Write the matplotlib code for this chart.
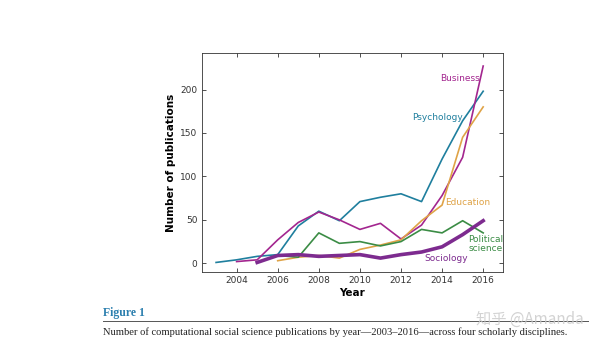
import matplotlib.pyplot as plt
import numpy as np

years_psy = np.arange(2003, 2017)
psychology = [1, 4, 8, 10, 43, 60, 49, 71, 76, 80, 71, 120, 164, 198]

years_bus = np.arange(2004, 2017)
business = [2, 4, 27, 47, 59, 50, 39, 46, 28, 44, 78, 122, 227]

years_edu = np.arange(2006, 2017)
education = [3, 7, 9, 6, 16, 21, 27, 49, 67, 145, 180]

years_pol = np.arange(2006, 2017)
political = [9, 7, 35, 23, 25, 20, 25, 39, 35, 49, 35]

years_soc = np.arange(2005, 2017)
sociology = [1, 9, 10, 8, 9, 10, 6, 10, 13, 19, 33, 49]

c_psy = '#1f7f9e'
c_bus = '#a3268f'
c_edu = '#dfa347'
c_pol = '#3b8c45'
c_soc = '#7d2b8f'

plt.rcParams['font.family'] = ['DejaVu Sans']
fig = plt.figure(figsize=(6, 3.45), dpi=100)
ax = fig.add_axes([201.7 / 600, 1 - 272 / 345, 301 / 600, 219 / 345])

ax.plot(years_psy, psychology, color=c_psy, lw=1.2)
ax.plot(years_bus, business, color=c_bus, lw=1.2)
ax.plot(years_edu, education, color=c_edu, lw=1.2)
ax.plot(years_pol, political, color=c_pol, lw=1.2)
ax.plot(years_soc, sociology, color=c_soc, lw=2.6)

lab = dict(fontsize=6.5, ha='center', va='center')
ax.text(2014.85, 213, 'Business', color=c_bus, **lab)
ax.text(2013.8, 168, 'Psychology', color=c_psy, **lab)
ax.text(2015.25, 70, 'Education', color=c_edu, **lab)
ax.text(2016.1, 22, 'Political\nscience', color=c_pol, linespacing=1.0, **lab)
ax.text(2014.2, 5, 'Sociology', color=c_soc, **lab)

ax.set_xlim(2002.3, 2016.95)
ax.set_ylim(-10, 242)
ax.set_xticks(range(2004, 2017, 2))
ax.set_yticks([0, 50, 100, 150, 200])
ax.tick_params(direction='in', top=True, right=True, labelsize=6.5, length=3,
               width=0.6, colors='#333333', pad=3)
for s in ax.spines.values():
    s.set_linewidth(0.6)
    s.set_color('#333333')
ax.set_xlabel('Year', fontsize=7.5, fontweight='bold', labelpad=2)
ax.set_ylabel('Number of publications', fontsize=7.5, fontweight='bold', labelpad=3)

# caption block below the chart
fig.text(103 / 600, 1 - 313 / 345, 'Figure 1', color='#2b7fae', fontsize=8.5,
         fontweight='bold', family='Liberation Serif', va='center')
fig.add_artist(plt.Line2D([103 / 600, 588 / 600], [1 - 321 / 345, 1 - 321 / 345],
                          color='#555555', lw=0.7))
fig.text(103 / 600, 1 - 332 / 345,
         'Number of computational social science publications by year\u20142003\u20132016\u2014across four scholarly disciplines.',
         fontsize=7.6, family='Liberation Serif', va='center', color='#222222')
fig.text(584 / 600, 1 - 319 / 345, '知乎 @Amanda', fontsize=11, color='#c8c8c8',
         family=['Noto Sans CJK SC', 'DejaVu Sans'], ha='right', va='center', alpha=0.8)

fig.savefig('out.png', dpi=100)
